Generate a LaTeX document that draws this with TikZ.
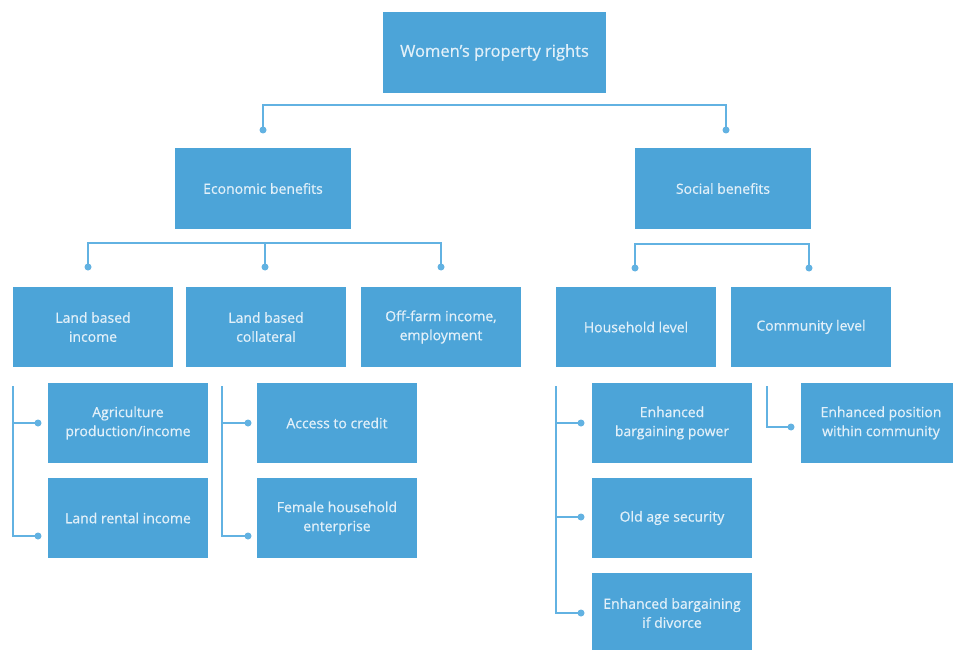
\documentclass[tikz,border=0pt]{standalone}
\usepackage{fontspec}
\setmainfont{Open Sans}[UprightFeatures={FakeBold=0.6}]
\definecolor{boxblue}{RGB}{76,164,216}
\definecolor{lineblue}{RGB}{98,178,226}
\definecolor{txt}{RGB}{226,240,249}
\begin{document}
\begin{tikzpicture}[x=1pt,y=-1pt,
  box/.style={fill=boxblue, text=txt, align=center, inner sep=0pt,
    minimum width=160pt, minimum height=80pt,
    font=\fontsize{14}{19}\selectfont},
  link/.style={draw=lineblue, line width=2pt},
  dotmark/.style={circle, fill=lineblue, inner sep=0pt, minimum size=7pt}]
\useasboundingbox (0,0) rectangle (953,650);
\clip (0,0) rectangle (953,650);
\fill[white] (0,0) rectangle (953,650);

% level 0
\node[box, minimum width=223pt, minimum height=81pt, font=\fontsize{16.5}{20}\selectfont] (top) at (494.5,52.5) {Women’s property rights};
% level 1
\node[box, minimum width=176pt, minimum height=81pt] (econ) at (263,188.5) {Economic benefits};
\node[box, minimum width=176pt, minimum height=81pt] (soc) at (723,188.5) {Social benefits};
% level 2
\node[box] (lbi) at (93,327) {Land based\\income};
\node[box] (lbc) at (266,327) {Land based\\collateral};
\node[box] (off) at (441,327) {Off-farm income,\\employment};
\node[box] (hh) at (636,327) {Household level};
\node[box] (com) at (811,327) {Community level};
% level 3
\node[box] (agri) at (128,423) {Agriculture\\production/income};
\node[box] (rent) at (128,518) {Land rental income};
\node[box] (cred) at (337,423) {Access to credit};
\node[box] (fem) at (337,518) {Female household\\enterprise};
\node[box] (barg) at (672,423) {Enhanced\\bargaining power};
\node[box] (old) at (672,518) {Old age security};
\node[box] (div) at (672,613) {Enhanced bargaining\\if divorce};
\node[box] (pos) at (881,423) {Enhanced position\\within community};

% dots
\node[dotmark] (t1) at (263,130) {};
\node[dotmark] (t2) at (726,130) {};
\node[dotmark] (e1) at (88,267) {};
\node[dotmark] (e2) at (265,267) {};
\node[dotmark] (e3) at (441,267) {};
\node[dotmark] (s1) at (635,268) {};
\node[dotmark] (s2) at (809,268) {};
\node[dotmark] (a1) at (38,423) {};
\node[dotmark] (a2) at (38,536) {};
\node[dotmark] (c1) at (248,423) {};
\node[dotmark] (c2) at (248,536) {};
\node[dotmark] (h1) at (581,423) {};
\node[dotmark] (h2) at (581,517) {};
\node[dotmark] (h3) at (581,613) {};
\node[dotmark] (m1) at (791,427) {};

% bracket corners
\coordinate (va) at (13,386);
\coordinate (vc) at (222,386);
\coordinate (vh) at (556,386);
\coordinate (vm) at (767,386);

% connectors
\draw[link] (t1.center) -- ++(0,-25) -| (t2.center);
\draw[link] (e1.center) -- ++(0,-24) -| (e3.center);
\draw[link] (e2.center) -- ++(0,-24);
\draw[link] (s1.center) -- ++(0,-24) -| (s2.center);
\draw[link] (va) |- (a2.center);
\draw[link] (va |- a1) -- (a1.center);
\draw[link] (vc) |- (c2.center);
\draw[link] (vc |- c1) -- (c1.center);
\draw[link] (vh) |- (h3.center);
\draw[link] (vh |- h1) -- (h1.center);
\draw[link] (vh |- h2) -- (h2.center);
\draw[link] (vm) |- (m1.center);
\end{tikzpicture}
\end{document}
